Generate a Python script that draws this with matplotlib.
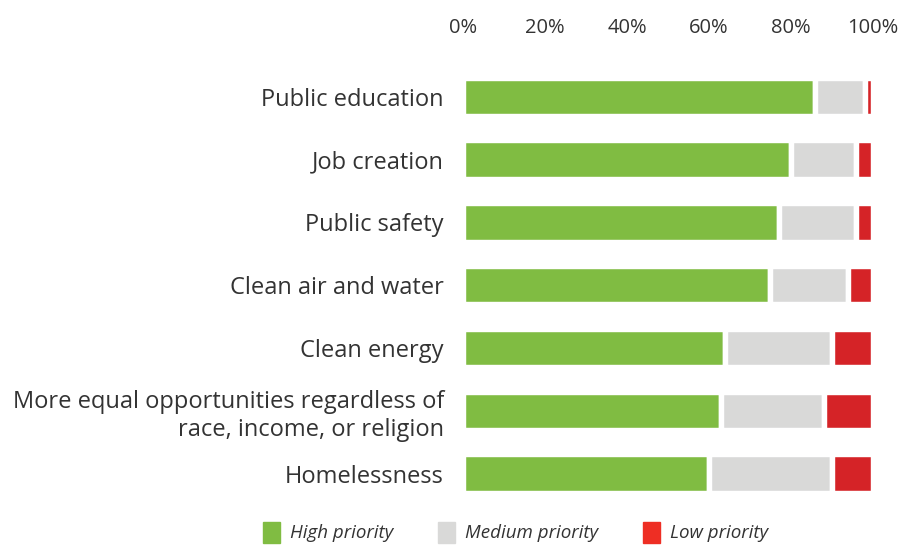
import numpy as np
import matplotlib.pyplot as plt
from matplotlib.patches import Rectangle

# Survey results (% of respondents)
categories = ['Public education', 'Job creation', 'Public safety',
              'Clean air and water', 'Clean energy',
              'More equal opportunities regardless of\nrace, income, or religion',
              'Homelessness']
high = [86, 80, 77, 75, 64, 63, 60]
medium = [12, 16, 19, 19, 26, 25, 30]
low = [2, 4, 4, 6, 10, 12, 10]
series_names = ['High priority', 'Medium priority', 'Low priority']

c_high = '#80bc42'
c_med = '#d9d9d8'
c_low = '#d52327'
c_low_legend = '#ee2e24'
txt = '#333333'

plt.rcParams['font.family'] = ['Open Sans', 'DejaVu Sans']

W, H = 902, 546
fig = plt.figure(figsize=(W/100, H/100), dpi=100)
ax = fig.add_axes([463.3/W, 1-504.9/H, 409.4/W, (504.9-65.4)/H])

y = np.arange(len(categories))
high = np.array(high); medium = np.array(medium); low = np.array(low)
kw = dict(height=0.61, edgecolor='white', linewidth=3.9)
ax.barh(y, high, color=c_high, **kw)
ax.barh(y, medium, left=high, color=c_med, **kw)
ax.barh(y, low, left=high+medium, color=c_low, **kw)

ax.set_xlim(0, 100)
ax.set_ylim(len(categories)-0.5, -0.5)
ax.set_xticks(np.arange(0, 101, 20))
ax.set_xticklabels([f'{v}%' for v in range(0, 101, 20)])
ax.xaxis.tick_top()
ax.tick_params(axis='x', length=0, pad=19.5, labelsize=14.5, labelcolor=txt)
ax.set_yticks(y)
ax.set_yticklabels(categories, linespacing=1.25)
ax.tick_params(axis='y', length=0, pad=14, labelsize=17, labelcolor=txt)
for lab in ax.get_yticklabels():
    lab.set_horizontalalignment('right')
for s in ax.spines.values():
    s.set_visible(False)

# legend drawn by hand
leg_colors = [c_high, c_med, c_low_legend]
box_x = [263, 438, 643]
for name, col, bx in zip(series_names, leg_colors, box_x):
    fig.add_artist(Rectangle((bx/W, 1-543/H), 17/W, 21/H, color=col,
                             transform=fig.transFigure))
    fig.text((bx+27)/W, 1-533/H, name, style='italic', fontsize=13.5,
             color=txt, va='center', ha='left')

fig.savefig('out.png', dpi=100)
